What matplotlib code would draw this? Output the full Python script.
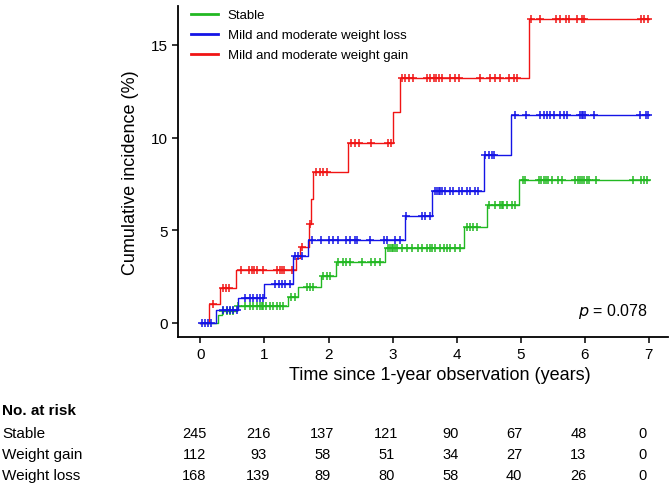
import numpy as np
import matplotlib
matplotlib.use("Agg")
import matplotlib.pyplot as plt
import matplotlib.transforms as mtransforms
from matplotlib.lines import Line2D

plt.rcParams["font.family"] = ["Liberation Sans", "DejaVu Sans"]

# step curves: time (years) and cumulative incidence (%)
stable_t = [0, 0.27, 0.33, 0.57, 1.37, 1.53, 1.89, 2.12, 2.88, 4.11, 4.47, 4.98, 7.0]
stable_y = [0, 0.42, 0.62, 0.9, 1.39, 1.93, 2.55, 3.3, 4.05, 5.17, 6.34, 7.7, 7.7]

loss_t = [0, 0.25, 0.59, 1.0, 1.45, 1.68, 3.20, 3.62, 4.42, 4.85, 7.0]
loss_y = [0, 0.72, 1.35, 2.1, 3.6, 4.5, 5.75, 7.1, 9.05, 11.2, 11.2]

gain_t = [0, 0.14, 0.30, 0.55, 1.49, 1.56, 1.70, 1.73, 1.76, 2.30, 3.01, 3.12, 5.13, 7.0]
gain_y = [0, 1.03, 1.89, 2.83, 3.5, 4.1, 5.35, 6.7, 8.15, 9.7, 11.4, 13.2, 16.4, 16.4]

# censoring times
stable_cens = [0.36, 0.41, 0.46, 0.51, 0.59, 0.70, 0.77, 0.82, 0.88, 0.93, 0.96, 0.98,
               1.03, 1.09, 1.14, 1.19, 1.24, 1.29, 1.42, 1.47, 1.66, 1.71, 1.76, 1.92,
               1.97, 2.02, 2.15, 2.23, 2.28, 2.34, 2.52, 2.67, 2.73, 2.80, 2.93, 2.96,
               2.99, 3.01, 3.04, 3.07, 3.14, 3.22, 3.30, 3.40, 3.46, 3.53, 3.59, 3.61,
               3.66, 3.74, 3.80, 3.85, 3.90, 3.98, 4.05, 4.16, 4.21, 4.26, 4.32, 4.50,
               4.60, 4.68, 4.71, 4.73, 4.78, 4.86, 4.91, 5.04, 5.07, 5.28, 5.32, 5.36,
               5.40, 5.43, 5.49, 5.59, 5.64, 5.85, 5.89, 5.92, 5.96, 5.99, 6.03, 6.06,
               6.18, 6.75, 6.88, 6.93, 6.97]
loss_cens = [0.02, 0.07, 0.12, 0.17, 0.36, 0.41, 0.46, 0.51, 0.57, 0.70, 0.77, 0.82,
             0.88, 0.93, 0.98, 1.16, 1.22, 1.27, 1.32, 1.40, 1.47, 1.53, 1.58, 1.74,
             1.89, 2.0, 2.07, 2.15, 2.28, 2.34, 2.41, 2.44, 2.65, 2.86, 2.91, 3.04,
             3.12, 3.21, 3.46, 3.51, 3.59, 3.66, 3.69, 3.72, 3.74, 3.77, 3.82, 3.89,
             3.95, 4.03, 4.08, 4.16, 4.21, 4.29, 4.33, 4.45, 4.50, 4.55, 4.59, 4.91,
             5.09, 5.30, 5.36, 5.41, 5.46, 5.52, 5.61, 5.68, 5.73, 5.92, 5.96, 5.98,
             6.01, 6.14, 6.87, 6.95, 6.98]
gain_cens = [0.20, 0.36, 0.40, 0.44, 0.64, 0.76, 0.80, 0.84, 0.88, 0.97, 1.19, 1.24,
             1.28, 1.31, 1.43, 1.58, 1.71, 1.80, 1.87, 1.92, 1.97, 2.35, 2.41, 2.47,
             2.66, 2.93, 2.98, 3.14, 3.20, 3.25, 3.32, 3.53, 3.59, 3.64, 3.68, 3.72,
             3.77, 3.90, 3.98, 4.03, 4.37, 4.52, 4.60, 4.68, 4.81, 4.89, 4.95, 5.16,
             5.30, 5.55, 5.62, 5.70, 5.76, 5.88, 5.96, 5.99, 6.88, 6.93, 6.98]

# number at risk table
risk_times = [0, 1, 2, 3, 4, 5, 6, 7]
risk_rows = ["Stable", "Weight gain", "Weight loss"]
risk_stable = [245, 216, 137, 121, 90, 67, 48, 0]
risk_gain = [112, 93, 58, 51, 34, 27, 13, 0]
risk_loss = [168, 139, 89, 80, 58, 40, 26, 0]

green = "#22b822"
blue = "#1414e6"
red = "#f01414"

fig = plt.figure(figsize=(6.69, 4.89), dpi=100)
ax = fig.add_axes([178 / 669, 1 - 338 / 489, 490 / 669, 331 / 489])


def level_at(t, y, c):
    idx = np.searchsorted(t, c, side="right") - 1
    return np.asarray(y)[idx]


for t, y, c, col in [(stable_t, stable_y, stable_cens, green),
                     (gain_t, gain_y, gain_cens, red),
                     (loss_t, loss_y, loss_cens, blue)]:
    ax.step(t, y, where="post", color=col, lw=1.0)
    ax.plot(c, level_at(t, y, c), ls="none", marker="+", ms=6, mew=1.1, color=col)

ax.set_xlim(-0.35, 7.3)
ax.set_ylim(-0.76, 17.1)
ax.set_xticks(range(8))
ax.set_yticks([0, 5, 10, 15])
for s in ["top", "right"]:
    ax.spines[s].set_visible(False)
for s in ["left", "bottom"]:
    ax.spines[s].set_linewidth(1.3)
ax.tick_params(labelsize=11, length=4, width=1.1, colors="black")
ax.set_ylabel("Cumulative incidence (%)", fontsize=13, labelpad=8)

fig.text(440 / 669, 1 - 376 / 489, "Time since 1-year observation (years)",
         fontsize=13, ha="center", va="center")

handles = [Line2D([], [], color=green, lw=2),
           Line2D([], [], color=blue, lw=2),
           Line2D([], [], color=red, lw=2)]
ax.legend(handles, ["Stable", "Mild and moderate weight loss",
                    "Mild and moderate weight gain"],
          loc="upper left", bbox_to_anchor=(0.003, 1.027), frameon=False,
          fontsize=9.5, handlelength=2.0, handletextpad=0.75, labelspacing=0.6)

ax.text(648 / 669, 1 - 312 / 489, r"$p$ = 0.078", transform=fig.transFigure,
        fontsize=11.5, ha="right", va="center")

# risk table
trans = mtransforms.blended_transform_factory(ax.transData, fig.transFigure)
fig.text(2 / 669, 1 - 411 / 489, "No. at risk", fontsize=11, fontweight="bold",
         va="center")
row_y = [434, 455, 476]
for name, vals, yy in zip(risk_rows, [risk_stable, risk_gain, risk_loss], row_y):
    fig.text(2 / 669, 1 - yy / 489, name, fontsize=11, va="center")
    for tt, v in zip(risk_times, vals):
        ax.text(tt - 0.1, 1 - yy / 489, str(v), transform=trans, fontsize=10.5,
                ha="center", va="center", clip_on=False)

fig.savefig("out.png", dpi=100)
